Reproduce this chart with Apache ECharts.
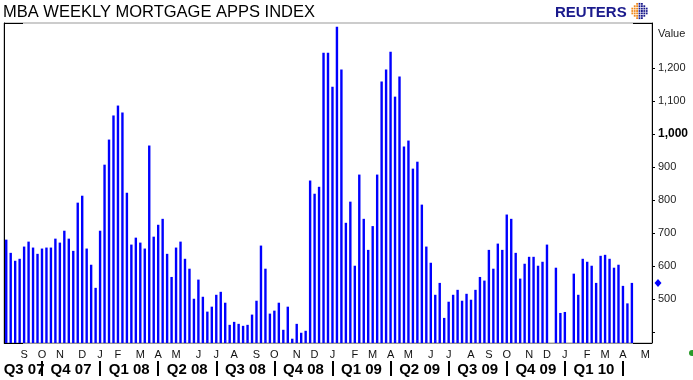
<!DOCTYPE html>
<html><head><meta charset="utf-8">
<script src="https://cdn.jsdelivr.net/npm/echarts@6/dist/echarts.min.js"></script>
<style>html,body{margin:0;padding:0;background:#fff}#c{width:693px;height:380px}</style>
</head><body><div id="c"></div>
<script>
// ---------- data ----------
const firstWeekEnding = [2007, 7, 10];   // 10 Aug 2007 (weekly, Fridays)
const weekCount = 145;                   // categories on the axis (through mid-May 2010)
const values = [
  680, 640, 616, 622, 659, 674, 656, 637, 653, 656, 656, 683, 671, 707, 683, 646, 792, 813, 653, 604, 534, 707, 907, 983, 1056, 1086, 1065, 822, 665,
  686, 671, 653, 965, 689, 725, 743, 637, 567, 656, 674, 622, 592, 501, 559, 507, 462, 477, 513, 522, 489, 422, 431, 425, 419, 422, 453, 495, 662,
  592, 456, 465, 489, 407, 477, 380, 425, 398, 404, 859, 819, 840, 1246, 1246, 1143, 1325, 1195, 731, 795, 601, 877, 743, 649, 721, 877, 1159, 1195, 1249,
  1113, 1174, 962, 980, 895, 916, 786, 659, 610, 513, 549, 443, 492, 513, 528, 495, 516, 498, 528, 567, 556, 649, 592, 668, 649, 756, 743, 640, 562,
  607, 628, 628, 601, 613, 665, null, 595, 458, 461, null, 577, 513, 622, 613, 601, 549, 631, 634, 622, 595, 604, 540, 487, 549
];
const yTickValues = [400, 500, 600, 700, 800, 900, 1000, 1100, 1200];
const yLabelValues = [500, 600, 700, 800, 900, 1000, 1100, 1200];
const monthLetters = ['J','F','M','A','M','J','J','A','S','O','N','D'];
const quarterLabels = ['Q3 07','Q4 07','Q1 08','Q2 08','Q3 08','Q4 08','Q1 09','Q2 09','Q3 09','Q4 09','Q1 10'];
const yMin = 367, yMax = 1336;

// ---------- categories ----------
const weeks = [];
const t0 = Date.UTC(firstWeekEnding[0], firstWeekEnding[1], firstWeekEnding[2]);
for (let i = 0; i < weekCount; i++) {
  weeks.push(new Date(t0 + i * 7 * 86400000).toISOString().slice(0, 10));
}
const isMonthStart = i => +weeks[i].slice(8, 10) <= 7;
const isQuarterStart = i => isMonthStart(i) && ((+weeks[i].slice(5, 7) - 1) % 3 === 0);
const qStarts = [];
for (let i = 0; i < weekCount; i++) if (isQuarterStart(i)) qStarts.push(i);
const bounds = [0].concat(qStarts);
const qLabelAt = {};
quarterLabels.forEach((lab, k) => {
  const mid = (bounds[k] + bounds[k + 1]) / 2;
  const idx = Math.floor(mid);
  qLabelAt[idx] = (mid !== idx) ? '{h|' + lab + '}' : '{n|' + lab + '}';
});

// ---------- chart ----------
const GL = 4, GR = 41, GT = 23, GB = 37, W = 693, H = 380;
const chart = echarts.init(document.getElementById('c'), null, {renderer: 'canvas'});
const FF = '"Liberation Sans", Arial, sans-serif';
const QF = '"Liberation Sans Narrow", "Arial Narrow", "Liberation Sans", sans-serif';

chart.setOption({
  animation: false,
  backgroundColor: '#fff',
  title: {
    text: 'MBA WEEKLY MORTGAGE APPS INDEX', left: 3, top: 4, padding: 0,
    textStyle: {fontSize: 16.5, fontWeight: 'normal', color: '#000', fontFamily: FF}
  },
  grid: {left: GL, right: GR, top: GT, bottom: GB, show: true, borderColor: '#999', borderWidth: 1,
         containLabel: false, outerBoundsMode: 'none'},
  xAxis: [{
    type: 'category', data: weeks, boundaryGap: true, position: 'bottom',
    axisLine: {lineStyle: {color: '#999', width: 1}},
    axisTick: {interval: (i) => isMonthStart(i), alignWithLabel: true, length: 3, lineStyle: {color: '#000'}},
    axisLabel: {interval: (i) => isMonthStart(i), formatter: (v) => monthLetters[+v.slice(5, 7) - 1],
                fontSize: 11, color: '#111', margin: 6, fontFamily: FF},
    splitLine: {show: false}
  }, {
    type: 'category', data: weeks, boundaryGap: true, position: 'bottom', offset: 18,
    axisLine: {show: false},
    axisTick: {show: true, interval: (i) => isQuarterStart(i), alignWithLabel: true, length: 15,
               lineStyle: {color: '#000', width: 2}},
    axisLabel: {interval: (i) => qLabelAt[i] !== undefined, formatter: (v, i) => qLabelAt[i] || '',
                margin: 1,
                rich: {
                  n: {fontSize: 15, fontWeight: 'bold', color: '#000', fontFamily: QF},
                  h: {fontSize: 15, fontWeight: 'bold', color: '#000', fontFamily: QF, padding: [0, 0, 0, 4.5]}
                }},
    splitLine: {show: false}
  }],
  yAxis: [{
    type: 'value', position: 'right', min: yMin, max: yMax,
    axisLine: {show: true, lineStyle: {color: '#000', width: 1}},
    axisTick: {show: true, customValues: yTickValues, length: 3, lineStyle: {color: '#000'}},
    axisLabel: {customValues: yLabelValues, margin: 6, color: '#222', fontSize: 11, fontFamily: FF,
                formatter: (v) => v === 1000 ? '{b|1,000}' : v.toLocaleString('en-US'),
                rich: {b: {fontWeight: 'bold', fontSize: 12, color: '#000', fontFamily: FF}}},
    splitLine: {show: false}
  }, {
    type: 'value', position: 'left', min: yMin, max: yMax,
    axisLine: {show: true, lineStyle: {color: '#000', width: 1}},
    axisTick: {show: false}, axisLabel: {show: false}, splitLine: {show: false}
  }],
  series: [{
    type: 'bar', data: values, xAxisIndex: 0, yAxisIndex: 0, barWidth: 2.4,
    itemStyle: {color: '#0000ff'}, silent: true
  }]
});

// ---------- decorations ----------
let lastIdx = values.length - 1;
while (values[lastIdx] == null) lastIdx--;
const lastVal = values[lastIdx];
const py = chart.convertToPixel({yAxisIndex: 0}, lastVal);
const xr = W - GR, yb = H - GB;

const g = [];
[[GL, GT, GL + 19, GT], [xr - 19, GT, xr, GT], [GL, yb, GL + 19, yb], [xr - 19, yb, xr, yb]].forEach(s => {
  g.push({type: 'line', shape: {x1: s[0], y1: s[1] + 0.5, x2: s[2], y2: s[3] + 0.5}, style: {stroke: '#000', lineWidth: 1}, z: 100});
});
g.push({type: 'polygon', shape: {points: [[xr + 6, py - 4], [xr + 9.5, py], [xr + 6, py + 4], [xr + 2.5, py]]},
        style: {fill: '#0000ff'}, z: 100});
g.push({type: 'text', left: xr + 6, top: 28, style: {text: 'Value', fontSize: 11, fontFamily: FF, fill: '#222'}});
g.push({type: 'text', left: 555, top: 5, style: {text: 'REUTERS', fontSize: 15, fontWeight: 'bold', fontFamily: FF, fill: '#1a1a8c'}});
const cx = 639.5, cy = 11, R = 8;
for (let ix = -3; ix <= 3; ix++) {
  for (let iy = -3; iy <= 3; iy++) {
    const dx = ix * 2.4, dy = iy * 2.4;
    if (dx * dx + dy * dy <= R * R) {
      g.push({type: 'rect', shape: {x: cx + dx - 0.9, y: cy + dy - 0.9, width: 1.8, height: 1.8},
              style: {fill: ix < 0 ? '#f08a1c' : '#1a1a8c'}});
    }
  }
}
g.push({type: 'circle', shape: {cx: 692, cy: 353, r: 3}, style: {fill: '#2a9a2a'}});
chart.setOption({graphic: g});
</script></body></html>
